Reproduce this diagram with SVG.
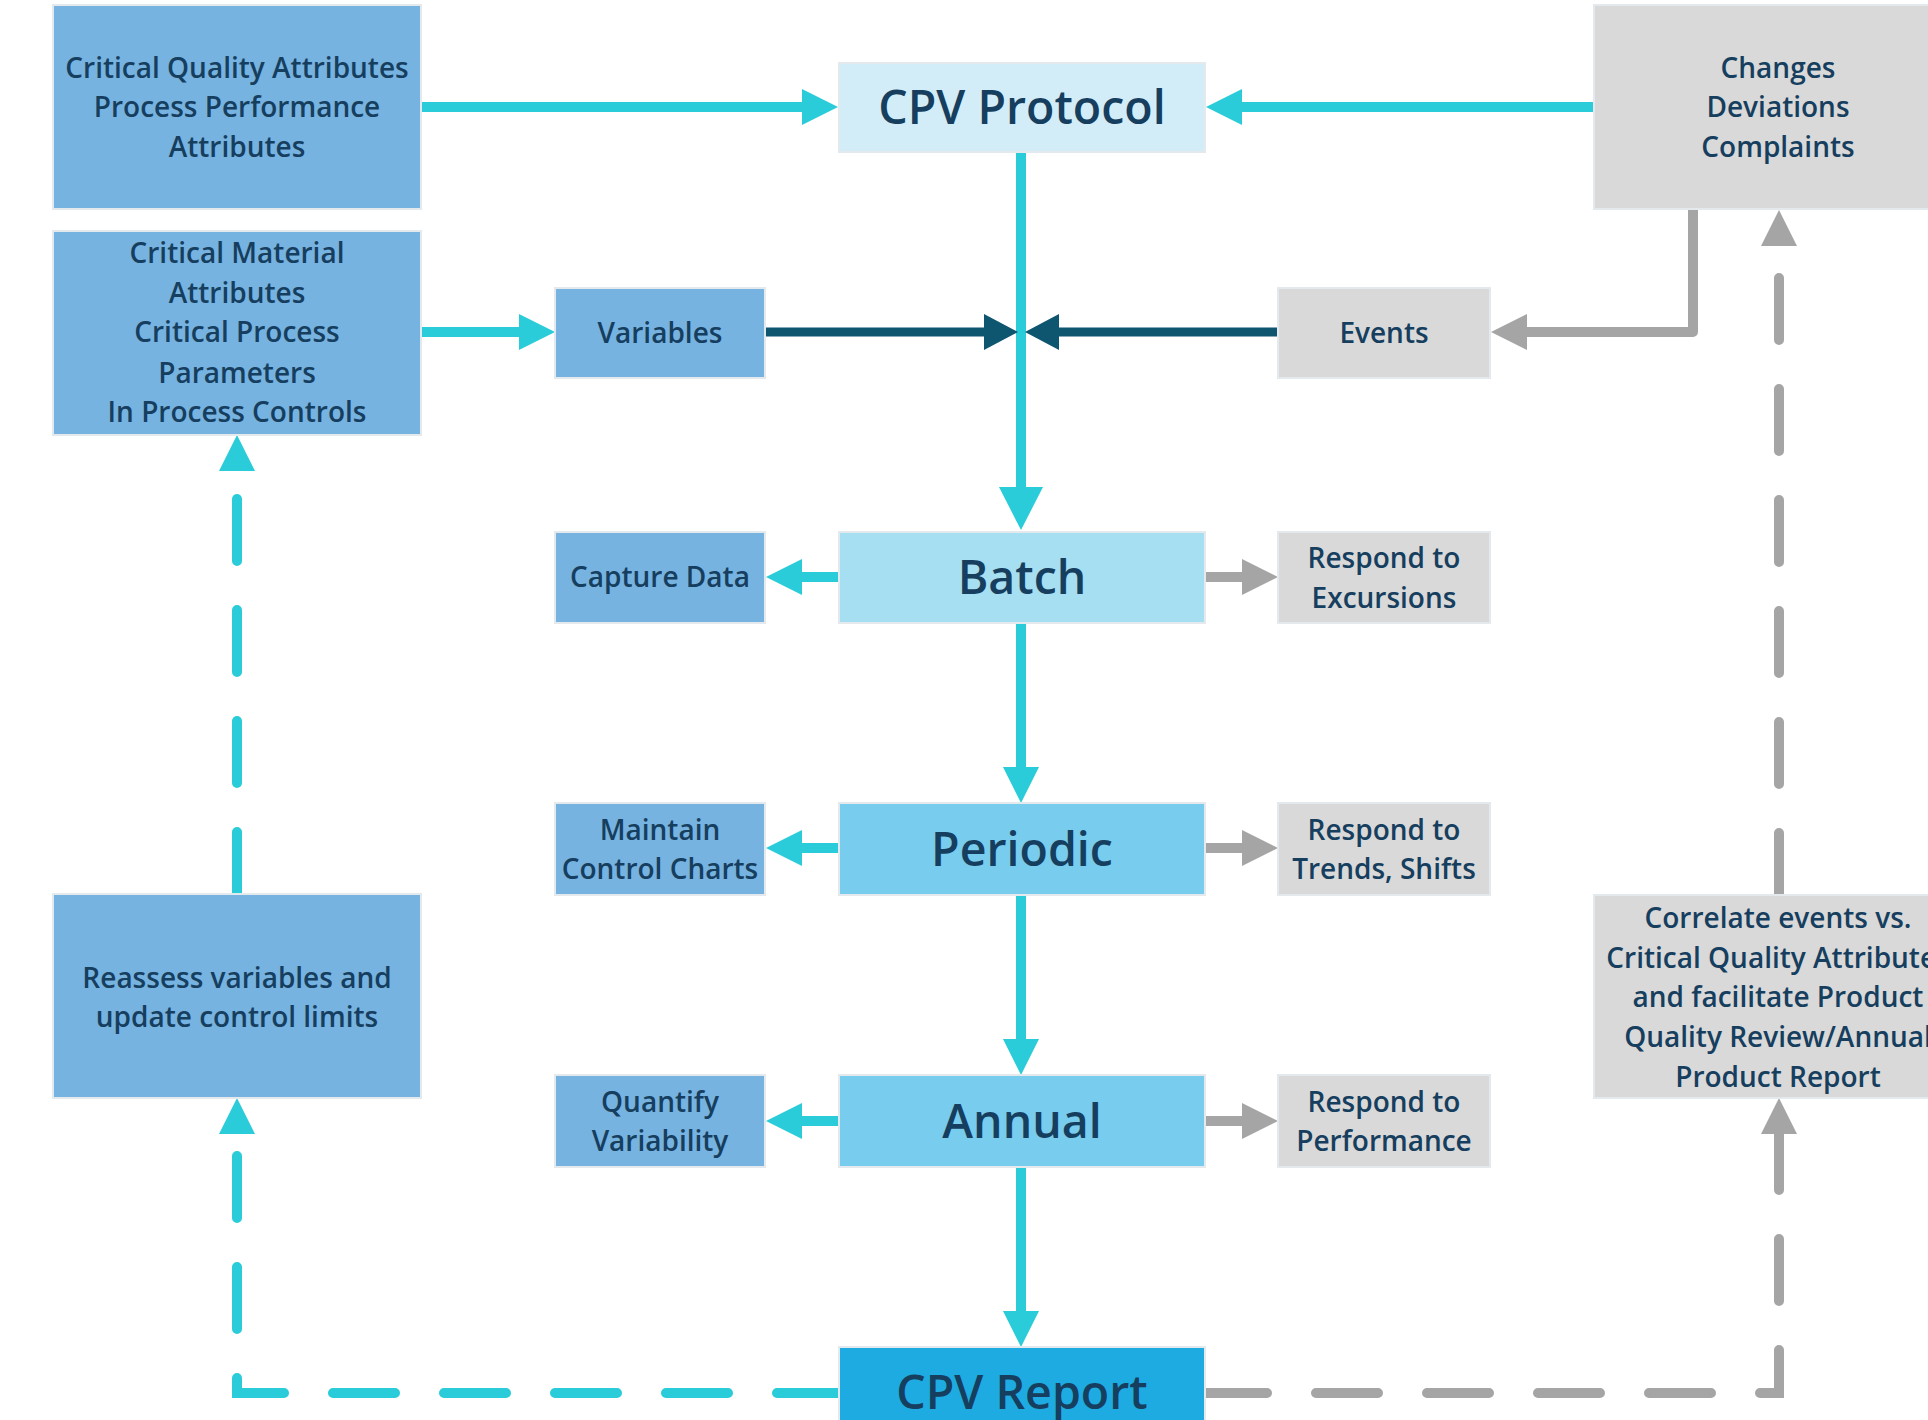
<svg xmlns="http://www.w3.org/2000/svg" width="1928" height="1420" viewBox="0 0 1928 1420">
  <style>
    .box { stroke: #E4E9EE; stroke-width: 2; }
    .mid { fill: #76B3E1; }
    .grey { fill: #D9D9D9; }
    .t { font-family: "Open Sans", "Liberation Sans", sans-serif; font-weight: 600; fill: #163E5E; text-anchor: middle; }
    .s { font-size: 28px; }
    .b { font-size: 46.5px; }
    .cy { stroke: #29CCD8; stroke-width: 10; fill: none; }
    .gr { stroke: #A5A5A5; stroke-width: 10; fill: none; }
    .dk { stroke: #0E5570; stroke-width: 9; fill: none; }
    .dash { stroke-dasharray: 62 49; stroke-linecap: round; }
  </style>
  <defs>
    <marker id="hCy" markerUnits="userSpaceOnUse" markerWidth="36" markerHeight="36" viewBox="0 0 36 36" refX="1" refY="18" orient="auto">
      <path d="M0,0 L36,18 L0,36 z" fill="#29CCD8"/>
    </marker>
    <marker id="hCyL" markerUnits="userSpaceOnUse" markerWidth="43" markerHeight="44" viewBox="0 0 43 44" refX="1" refY="22" orient="auto">
      <path d="M0,0 L43,22 L0,44 z" fill="#29CCD8"/>
    </marker>
    <marker id="hGr" markerUnits="userSpaceOnUse" markerWidth="36" markerHeight="36" viewBox="0 0 36 36" refX="1" refY="18" orient="auto">
      <path d="M0,0 L36,18 L0,36 z" fill="#A5A5A5"/>
    </marker>
    <marker id="hDk" markerUnits="userSpaceOnUse" markerWidth="34" markerHeight="36" viewBox="0 0 34 36" refX="1" refY="18" orient="auto">
      <path d="M0,0 L34,18 L0,36 z" fill="#0E5570"/>
    </marker>
  </defs>

  <rect width="1928" height="1420" fill="#FFFFFF"/>

  <!-- connectors -->
  <g id="connectors">
    <path class="cy" d="M421,107 H803" marker-end="url(#hCy)"/>
    <path class="cy" d="M1596,107 H1241" marker-end="url(#hCy)"/>
    <path class="cy" d="M421,332 H520" marker-end="url(#hCy)"/>
    <path class="cy" d="M1021,150 V488" marker-end="url(#hCyL)"/>
    <path class="dk" d="M765,332 H985" stroke-linecap="round" marker-end="url(#hDk)"/>
    <path class="dk" d="M1280,332 H1058" stroke-linecap="round" marker-end="url(#hDk)"/>
    <path class="gr" d="M1693,205 V332 H1526" stroke-linejoin="round" marker-end="url(#hGr)"/>

    <path class="cy" d="M841,577 H801" marker-end="url(#hCy)"/>
    <path class="gr" d="M1203,577 H1243" marker-end="url(#hGr)"/>
    <path class="cy" d="M1021,621 V768" marker-end="url(#hCy)"/>

    <path class="cy" d="M841,848 H801" marker-end="url(#hCy)"/>
    <path class="gr" d="M1203,848 H1243" marker-end="url(#hGr)"/>
    <path class="cy" d="M1021,893 V1040" marker-end="url(#hCy)"/>

    <path class="cy" d="M841,1121 H801" marker-end="url(#hCy)"/>
    <path class="gr" d="M1203,1121 H1243" marker-end="url(#hGr)"/>
    <path class="cy" d="M1021,1165 V1312" marker-end="url(#hCy)"/>

    <!-- feedback loops -->
    <path class="cy dash" d="M839,1393 H237 V1133" marker-end="url(#hCy)"/>
    <path class="cy dash" d="M237,894 V470" marker-end="url(#hCy)"/>
    <path class="gr dash" d="M1205,1393 H1779 V1133" marker-end="url(#hGr)"/>
    <path class="gr dash" d="M1779,895 V245" marker-end="url(#hGr)"/>
  </g>

  <!-- inputs, left column -->
  <g id="cqa">
    <rect class="box mid" x="53" y="5" width="368" height="204"/>
    <text class="t s" x="237" y="78">Critical Quality Attributes</text>
    <text class="t s" x="237" y="117">Process Performance</text>
    <text class="t s" x="237" y="157">Attributes</text>
  </g>
  <g id="cma">
    <rect class="box mid" x="53" y="231" width="368" height="204"/>
    <text class="t s" x="237" y="263">Critical Material</text>
    <text class="t s" x="237" y="303">Attributes</text>
    <text class="t s" x="237" y="342">Critical Process</text>
    <text class="t s" x="237" y="383">Parameters</text>
    <text class="t s" x="237" y="422">In Process Controls</text>
  </g>
  <g id="reassess">
    <rect class="box mid" x="53" y="894" width="368" height="204"/>
    <text class="t s" x="237" y="988">Reassess variables and</text>
    <text class="t s" x="237" y="1027">update control limits</text>
  </g>

  <!-- activities -->
  <g id="variables">
    <rect class="box mid" x="555" y="288" width="210" height="90"/>
    <text class="t s" x="660" y="343">Variables</text>
  </g>
  <g id="capture">
    <rect class="box mid" x="555" y="532" width="210" height="91"/>
    <text class="t s" x="660" y="587">Capture Data</text>
  </g>
  <g id="charts">
    <rect class="box mid" x="555" y="803" width="210" height="92"/>
    <text class="t s" x="660" y="840">Maintain</text>
    <text class="t s" x="660" y="879">Control Charts</text>
  </g>
  <g id="variability">
    <rect class="box mid" x="555" y="1075" width="210" height="92"/>
    <text class="t s" x="660" y="1112">Quantify</text>
    <text class="t s" x="660" y="1151">Variability</text>
  </g>

  <!-- main CPV stages -->
  <g id="protocol">
    <rect class="box" x="839" y="63" width="366" height="89" fill="#D3EDF8"/>
    <text class="t b" x="1022" y="124">CPV Protocol</text>
  </g>
  <g id="batch">
    <rect class="box" x="839" y="532" width="366" height="91" fill="#A6DEF2"/>
    <text class="t b" x="1022" y="594">Batch</text>
  </g>
  <g id="periodic">
    <rect class="box" x="839" y="803" width="366" height="92" fill="#78CCEE"/>
    <text class="t b" x="1022" y="866">Periodic</text>
  </g>
  <g id="annual">
    <rect class="box" x="839" y="1075" width="366" height="92" fill="#78CCEE"/>
    <text class="t b" x="1022" y="1138">Annual</text>
  </g>
  <g id="report">
    <rect class="box" x="839" y="1347" width="366" height="92" fill="#1DABE2"/>
    <text class="t b" x="1022" y="1409">CPV Report</text>
  </g>

  <!-- responses -->
  <g id="events">
    <rect class="box grey" x="1278" y="288" width="212" height="90"/>
    <text class="t s" x="1384" y="343">Events</text>
  </g>
  <g id="excursions">
    <rect class="box grey" x="1278" y="532" width="212" height="91"/>
    <text class="t s" x="1384" y="568">Respond to</text>
    <text class="t s" x="1384" y="608">Excursions</text>
  </g>
  <g id="trends">
    <rect class="box grey" x="1278" y="803" width="212" height="92"/>
    <text class="t s" x="1384" y="840">Respond to</text>
    <text class="t s" x="1384" y="879">Trends, Shifts</text>
  </g>
  <g id="performance">
    <rect class="box grey" x="1278" y="1075" width="212" height="92"/>
    <text class="t s" x="1384" y="1112">Respond to</text>
    <text class="t s" x="1384" y="1151">Performance</text>
  </g>

  <!-- right column, partly beyond the canvas edge -->
  <g id="changes">
    <rect class="box grey" x="1594" y="5" width="368" height="204"/>
    <text class="t s" x="1778" y="78">Changes</text>
    <text class="t s" x="1778" y="117">Deviations</text>
    <text class="t s" x="1778" y="157">Complaints</text>
  </g>
  <g id="correlate">
    <rect class="box grey" x="1594" y="895" width="368" height="203"/>
    <text class="t s" x="1778" y="928">Correlate events vs.</text>
    <text class="t s" x="1778" y="968">Critical Quality Attributes</text>
    <text class="t s" x="1778" y="1007">and facilitate Product</text>
    <text class="t s" x="1778" y="1047">Quality Review/Annual</text>
    <text class="t s" x="1778" y="1087">Product Report</text>
  </g>
</svg>
